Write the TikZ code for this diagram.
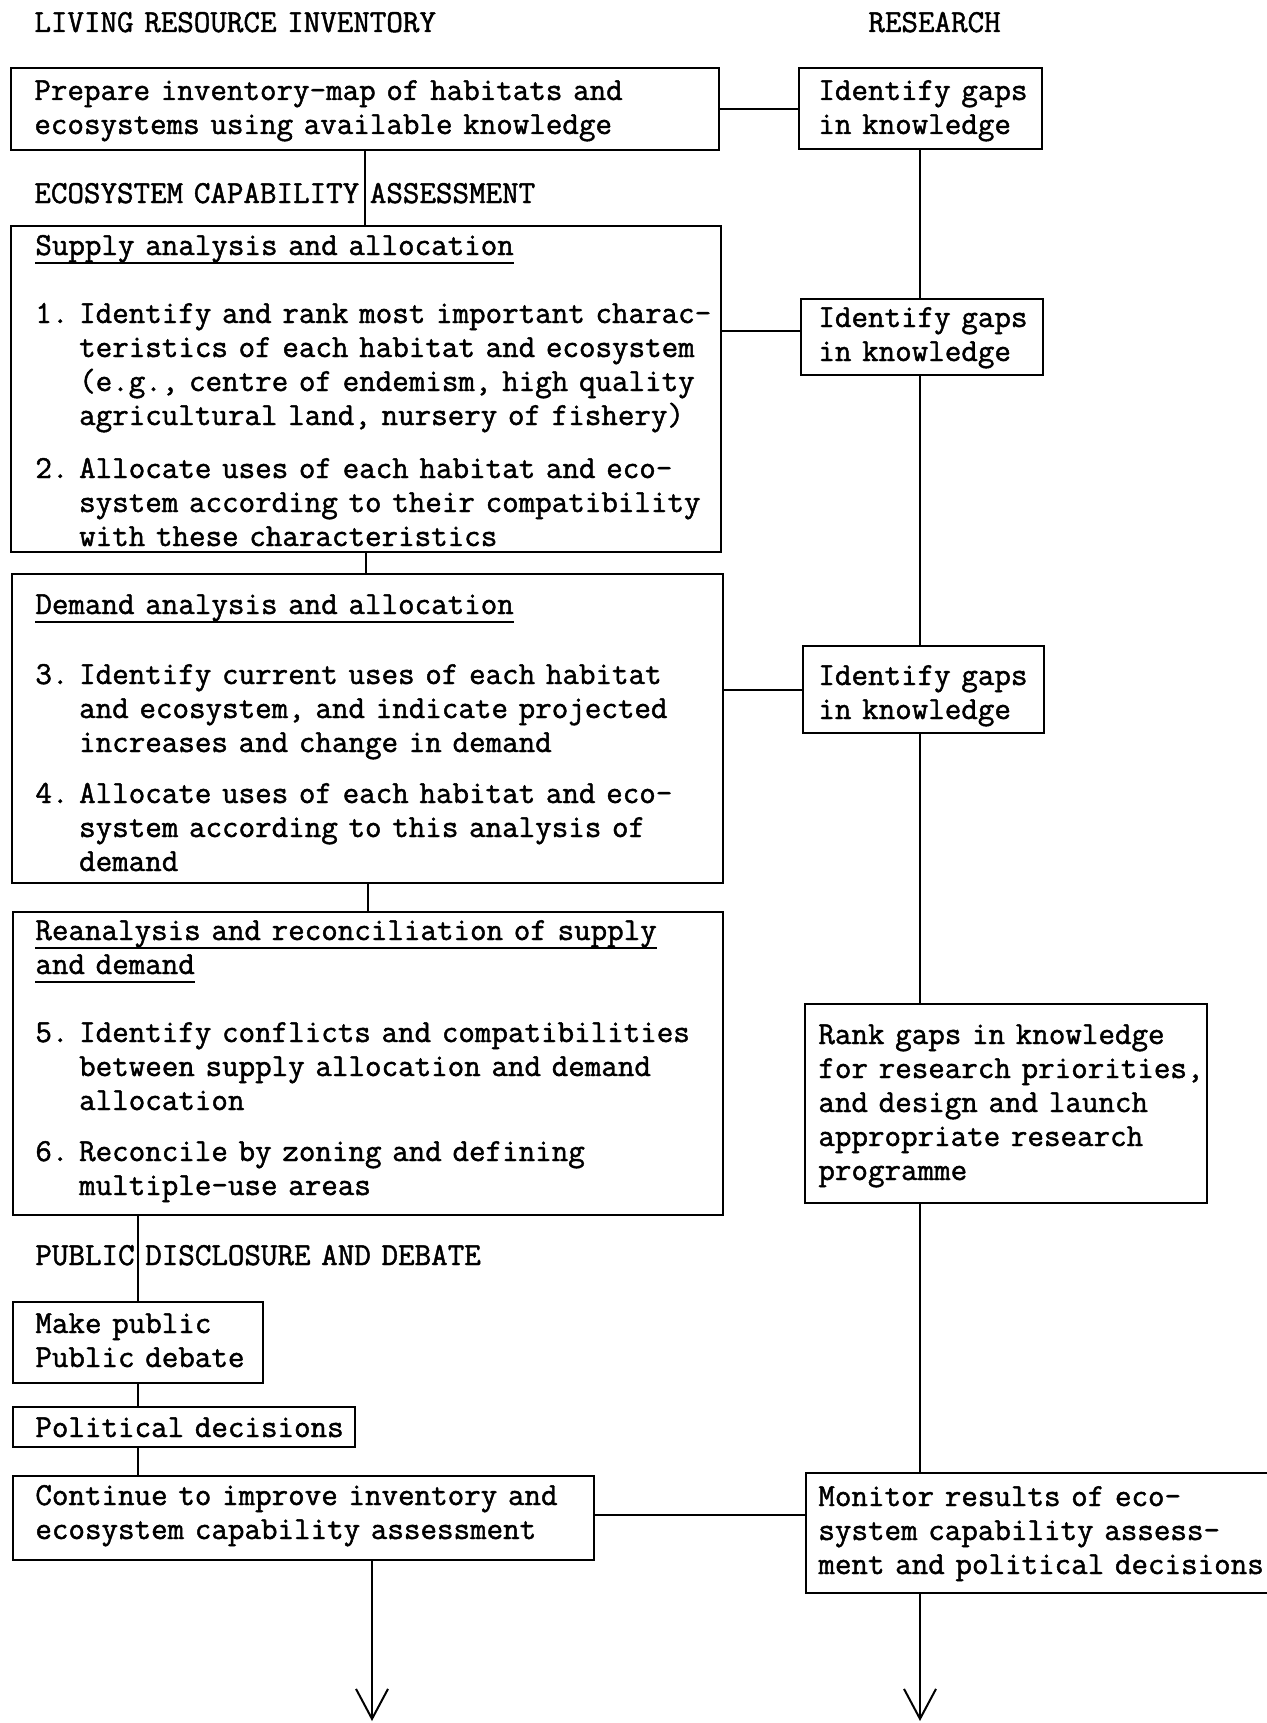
\documentclass[tikz,border=0pt]{standalone}
\usepackage{fontspec}
\setmonofont{Latin Modern Mono}[FakeBold=1.4]
\usetikzlibrary{fit,arrows.meta}

% hanging indent of the numbered items, and underlined headings
\newcommand{\hangpad}{\phantom{1. }}
\newcommand{\ulhead}[1]{\leavevmode\setbox0\hbox{#1}\rlap{\rule[-4.5pt]{\wd0}{1.2pt}}\box0}

\begin{document}
\begin{tikzpicture}[x=0.5pt, y=-0.5pt,
    box/.style={draw, line width=1.4pt, inner sep=0pt},
    txt/.style={anchor=base west, inner sep=0pt, align=left, text width=#1,
        font=\ttfamily\frenchspacing\fontsize{16.05}{17}\selectfont},
    txt/.default=380pt,
    link/.style={line width=1pt}]
    \useasboundingbox (0,0) rectangle (1266,1723);

    % Spines of the two columns
    \coordinate (pspine) at (138,0);
    \coordinate (rspine) at (920,0);
    \coordinate (ldown) at (372,1721);
    \coordinate (rdown) at (920,1721);

    % Column headings
    \node[txt] (invhead) at (34,32) {LIVING RESOURCE INVENTORY};
    \node[txt=150pt] (reshead) at (868,32) {RESEARCH};

    % Boxes of the left column
    \node[box, fit={(11,68) (719,150)}] (inv) {};
    \node[box, fit={(11,226) (721,552)}] (supply) {};
    \node[box, fit={(12,574) (723,883)}] (demand) {};
    \node[box, fit={(13,912) (723,1215)}] (recon) {};
    \node[box, fit={(13,1302) (263,1383)}] (public) {};
    \node[box, fit={(13,1407) (355,1447)}] (political) {};
    \node[box, fit={(13,1476) (594,1560)}] (cont) {};

    % Boxes of the right column
    \node[box, fit={(799,68) (1042,149)}] (gapsA) {};
    \node[box, fit={(801,299) (1043,375)}] (gapsB) {};
    \node[box, fit={(803,646) (1044,733)}] (gapsC) {};
    \node[box, fit={(805,1004) (1207,1203)}] (rank) {};
    \node[box, fit={(806,1473) (1290,1593)}] (monitor) {};

    % Texts of the left column
    \node[txt] (invtxt) at (34,100) {Prepare inventory-map of habitats and\\
        ecosystems using available knowledge};
    \node[txt] (ecohead) at (34,203) {ECOSYSTEM CAPABILITY ASSESSMENT};
    \node[txt] (supplytxt) at (35,255) {\ulhead{Supply analysis and allocation}\\[17pt]
        1. Identify and rank most important charac-\\
        \hangpad teristics of each habitat and ecosystem\\
        \hangpad (e.g., centre of endemism, high quality\\
        \hangpad agricultural land, nursery of fishery)\\[9.5pt]
        2. Allocate uses of each habitat and eco-\\
        \hangpad system according to their compatibility\\
        \hangpad with these characteristics};
    \node[txt] (demandtxt) at (35,614) {\ulhead{Demand analysis and allocation}\\[18pt]
        3. Identify current uses of each habitat\\
        \hangpad and ecosystem, and indicate projected\\
        \hangpad increases and change in demand\\[8.5pt]
        4. Allocate uses of each habitat and eco-\\
        \hangpad system according to this analysis of\\
        \hangpad demand};
    \node[txt] (recontxt) at (35,940) {\ulhead{Reanalysis and reconciliation of supply}\\
        \ulhead{and demand}\\[17pt]
        5. Identify conflicts and compatibilities\\
        \hangpad between supply allocation and demand\\
        \hangpad allocation\\[8.5pt]
        6. Reconcile by zoning and defining\\
        \hangpad multiple-use areas};
    \node[txt] (pubhead) at (35,1265) {PUBLIC DISCLOSURE AND DEBATE};
    \node[txt] (publictxt) at (35,1333) {Make public\\Public debate};
    \node[txt] (politicaltxt) at (35,1437) {Political decisions};
    \node[txt] (conttxt) at (35,1505) {Continue to improve inventory and\\
        ecosystem capability assessment};

    % Texts of the right column
    \node[txt=240pt] (gapsAtxt) at (818,100) {Identify gaps\\in knowledge};
    \node[txt=240pt] (gapsBtxt) at (818,327) {Identify gaps\\in knowledge};
    \node[txt=240pt] (gapsCtxt) at (818,685) {Identify gaps\\in knowledge};
    \node[txt=240pt] (ranktxt) at (818,1044) {Rank gaps in knowledge\\
        for research priorities,\\and design and launch\\
        appropriate research\\programme};
    \node[txt=240pt] (monitortxt) at (818,1506) {Monitor results of eco-\\
        system capability assess-\\ment and political decisions};

    % Draw links down the left column
    \draw[link] (inv.south) -- (inv.south |- supply.north);
    \draw[link] (supply.south) -- (supply.south |- demand.north);
    \draw[link] (demand.south) -- (demand.south |- recon.north);
    \draw[link] (recon.south -| pspine) -- (public.north -| pspine);
    \draw[link] (public.south -| pspine) -- (political.north -| pspine);
    \draw[link] (political.south -| pspine) -- (cont.north -| pspine);
    \draw[link, -{Straight Barb[length=15pt, width=16pt]}] (cont.south -| ldown) -- (ldown);

    % Draw links down the right column
    \draw[link] (gapsA.south -| rspine) -- (gapsB.north -| rspine);
    \draw[link] (gapsB.south -| rspine) -- (gapsC.north -| rspine);
    \draw[link] (gapsC.south -| rspine) -- (rank.north -| rspine);
    \draw[link] (rank.south -| rspine) -- (monitor.north -| rspine);
    \draw[link, -{Straight Barb[length=15pt, width=16pt]}] (monitor.south -| rdown) -- (rdown);

    % Draw links across
    \draw[link] (inv.east) -- (inv.east -| gapsA.west);
    \draw[link] ([yshift=3pt]gapsB.west) -- ([yshift=3pt]gapsB.west -| supply.east);
    \draw[link] (gapsC.west) -- (gapsC.west -| demand.east);
    \draw[link] ([yshift=1.5pt]cont.east) -- ([yshift=1.5pt]cont.east -| monitor.west);
\end{tikzpicture}
\end{document}
